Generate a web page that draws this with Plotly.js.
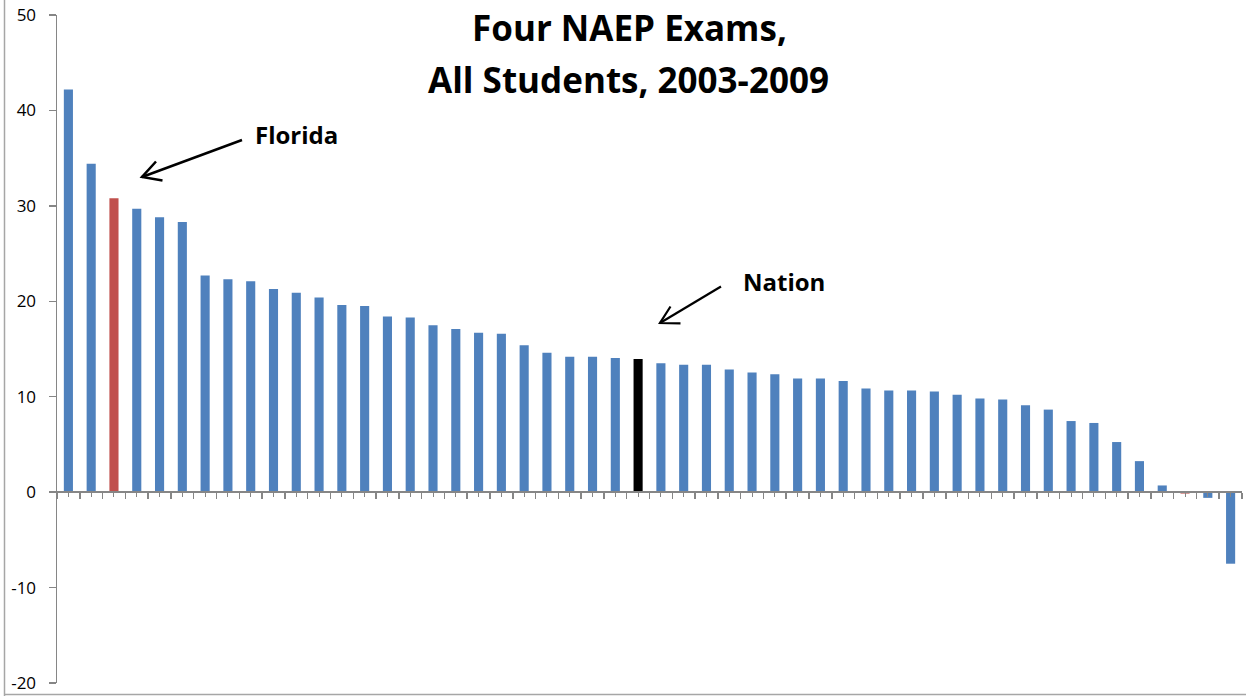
<!DOCTYPE html>
<html>
<head>
<meta charset="utf-8">
<script src="https://cdn.plot.ly/plotly-3.0.1.min.js"></script>
<style>
  html, body { margin: 0; padding: 0; background: #fff; }
  #chart { width: 1246px; height: 696px; }
</style>
</head>
<body>
<div id="chart"></div>
<script>
// Score gains on four NAEP exams, 2003-2009, sorted descending (50 states + DC + Nation)
const barIndex = Array.from({length: 52}, (_, i) => i);
const gains = [
  42.2, 34.4, 30.8, 29.7, 28.8, 28.3, 22.7, 22.3, 22.1, 21.3,
  20.9, 20.4, 19.6, 19.5, 18.4, 18.3, 17.5, 17.1, 16.7, 16.6,
  15.4, 14.6, 14.2, 14.2, 14.05, 13.95, 13.5, 13.35, 13.35, 12.85,
  12.55, 12.35, 11.9, 11.9, 11.65, 10.85, 10.65, 10.65, 10.55, 10.2,
  9.8, 9.7, 9.1, 8.65, 7.45, 7.25, 5.25, 3.25, 0.7, -0.15,
  -0.6, -7.5
];
const floridaIdx = 2;
const nationIdx = 25;
const redIdx = [2, 49];
const barColors = barIndex.map(i => i === nationIdx ? '#000000' : (redIdx.includes(i) ? '#C0504D' : '#4F81BD'));
const yTicks = [-20, -10, 0, 10, 20, 30, 40, 50];
const titleLines = ['Four NAEP Exams,', 'All Students, 2003-2009'];
const labelFlorida = 'Florida';
const labelNation = 'Nation';

const font = '"Open Sans", "Liberation Sans", sans-serif';
const axisGray = '#868686';

// pixel -> paper helpers (plot area: x 57..1242, y 15..683)
const px = x => (x - 57) / 1185;
const py = y => 1 - (y - 15) / 668;
const P = (x, y) => px(x) + ',' + py(y);

// open "V" arrow: shaft from start to tip, plus two head arms
function arrowShapes(start, tip, armA, armB, w) {
  return [
    { type: 'line', xref: 'paper', yref: 'paper', x0: px(start[0]), y0: py(start[1]), x1: px(tip[0]), y1: py(tip[1]), line: { color: '#000', width: w } },
    { type: 'path', xref: 'paper', yref: 'paper', path: 'M' + P(armA[0], armA[1]) + 'L' + P(tip[0], tip[1]) + 'L' + P(armB[0], armB[1]), line: { color: '#000', width: w }, fillcolor: 'rgba(0,0,0,0)' }
  ];
}

const trace = {
  type: 'bar',
  x: barIndex,
  y: gains,
  marker: { color: barColors, line: { width: 0 } },
  hoverinfo: 'y'
};

const layout = {
  width: 1246,
  height: 696,
  margin: { l: 57, r: 4, t: 15, b: 13 },
  paper_bgcolor: '#ffffff',
  plot_bgcolor: '#ffffff',
  showlegend: false,
  bargap: 0.6,
  font: { family: font, color: '#000' },
  xaxis: {
    range: [-0.5, 51.5],
    anchor: 'free',
    position: 20 / 70,
    showline: true,
    linecolor: axisGray,
    linewidth: 2,
    showgrid: false,
    zeroline: false,
    showticklabels: false,
    ticks: 'outside',
    tickmode: 'linear',
    tick0: -0.5,
    dtick: 1,
    ticklen: 6,
    tickwidth: 1.5,
    tickcolor: axisGray,
    minor: { ticks: 'outside', tickmode: 'linear', tick0: 0, dtick: 0.5, ticklen: 4, tickwidth: 1, tickcolor: axisGray, showgrid: false },
    fixedrange: true
  },
  yaxis: {
    range: [-20, 50],
    tickvals: yTicks,
    ticktext: yTicks.map(String),
    showline: true,
    linecolor: axisGray,
    linewidth: 1.5,
    showgrid: false,
    zeroline: false,
    ticks: 'outside',
    ticklen: 7,
    tickwidth: 1.5,
    tickcolor: axisGray,
    ticklabelstandoff: 9,
    tickfont: { family: font, size: 17, color: '#000' },
    fixedrange: true
  },
  shapes: [
    { type: 'line', xref: 'paper', yref: 'paper', x0: px(4.5), x1: px(4.5), y0: py(700), y1: py(-5), line: { color: '#a6a6a6', width: 1.5 } },
    { type: 'line', xref: 'paper', yref: 'paper', x0: px(4.5), x1: px(1250), y0: py(694.5), y1: py(694.5), line: { color: '#a6a6a6', width: 1.5 } }
  ].concat(
    arrowShapes([242, 140], [142, 177], [156, 161.5], [162.5, 180.5], 2.5),
    arrowShapes([721, 286.5], [660, 323], [670.5, 306.5], [680.5, 323.3], 2.2)
  ),
  annotations: [
    {
      xref: 'paper', yref: 'paper', x: px(629), y: py(27),
      text: '<b>' + titleLines[0] + '</b>', showarrow: false,
      font: { family: font, size: 35, color: '#000' },
      xanchor: 'center', yanchor: 'middle'
    },
    {
      xref: 'paper', yref: 'paper', x: px(628.5), y: py(80),
      text: '<b>' + titleLines[1] + '</b>', showarrow: false,
      font: { family: font, size: 35, color: '#000' },
      xanchor: 'center', yanchor: 'middle'
    },
    {
      xref: 'paper', yref: 'paper', x: px(296.5), y: py(134),
      text: '<b>' + labelFlorida + '</b>', showarrow: false,
      font: { family: font, size: 24, color: '#000' },
      xanchor: 'center', yanchor: 'middle'
    },
    {
      xref: 'paper', yref: 'paper', x: px(784), y: py(281.5),
      text: '<b>' + labelNation + '</b>', showarrow: false,
      font: { family: font, size: 24, color: '#000' },
      xanchor: 'center', yanchor: 'middle'
    }
  ]
};

Plotly.newPlot('chart', [trace], layout, { staticPlot: true, displayModeBar: false });
</script>
</body>
</html>
